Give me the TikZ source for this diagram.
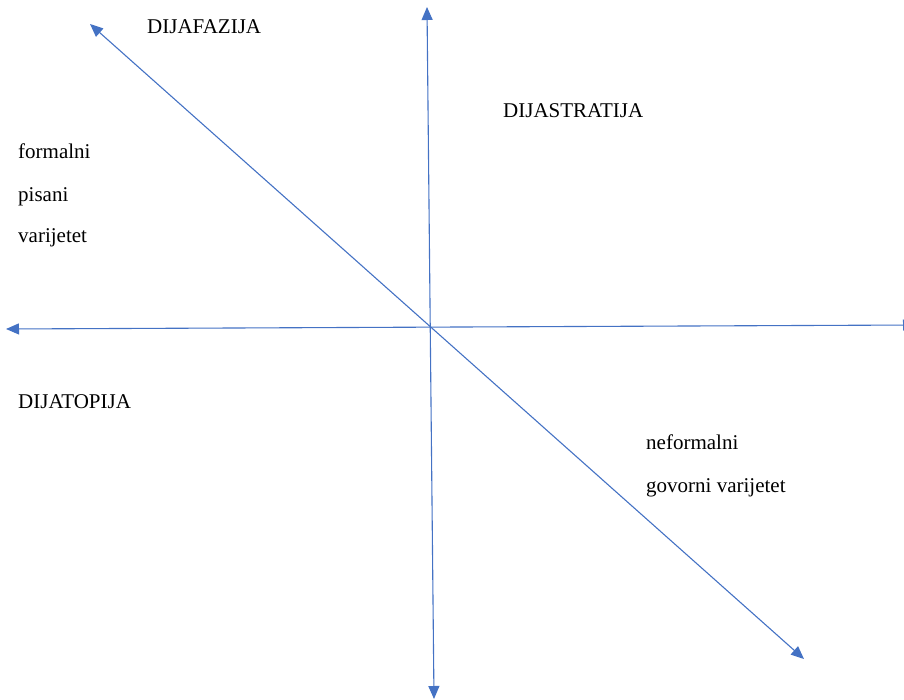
\documentclass[tikz,border=0pt]{standalone}
\usepackage{fontspec}
\setmainfont{Liberation Serif}
\newfontfamily\labelfont{Liberation Serif}
\usetikzlibrary{arrows.meta}
\definecolor{axisblue}{HTML}{4472C4}
\begin{document}
\begin{tikzpicture}[x=1bp,y=-1bp,
  axis/.style={draw=axisblue,line width=1.1bp,
    {Triangle[length=13bp,width=11bp]}-{Triangle[length=13bp,width=11bp]}},
  lbl/.style={anchor=base west,inner sep=0pt,font=\labelfont\fontsize{21bp}{25bp}\selectfont,text=black}]
\clip (0,0) rectangle (904,700);
\useasboundingbox (0,0) rectangle (904,700);
% end points of the axes
\coordinate (vtop) at (427,7);
\coordinate (vbot) at (434,699);
\coordinate (hleft) at (6,329);
\coordinate (hright) at (916,325);
\coordinate (dtl) at (90,24);
\coordinate (dbr) at (804,659);
% axes
\draw[axis] (vbot) -- (vtop);
\draw[axis] (hleft) -- (hright);
\draw[axis] (dtl) -- (dbr);
% labels
\node[lbl] (dijafazija) at (147,34) {DIJAFAZIJA};
\node[lbl] (dijastratija) at (503,118) {DIJASTRATIJA};
\node[lbl] (formalni) at (18,159) {formalni};
\node[lbl] (pisani) at (18,201) {pisani};
\node[lbl] (varijetet) at (18,242) {varijetet};
\node[lbl] (dijatopija) at (18,408) {DIJATOPIJA};
\node[lbl] (neformalni) at (646,449) {neformalni};
\node[lbl] (govorni) at (646,492) {govorni varijetet};
\end{tikzpicture}
\end{document}
